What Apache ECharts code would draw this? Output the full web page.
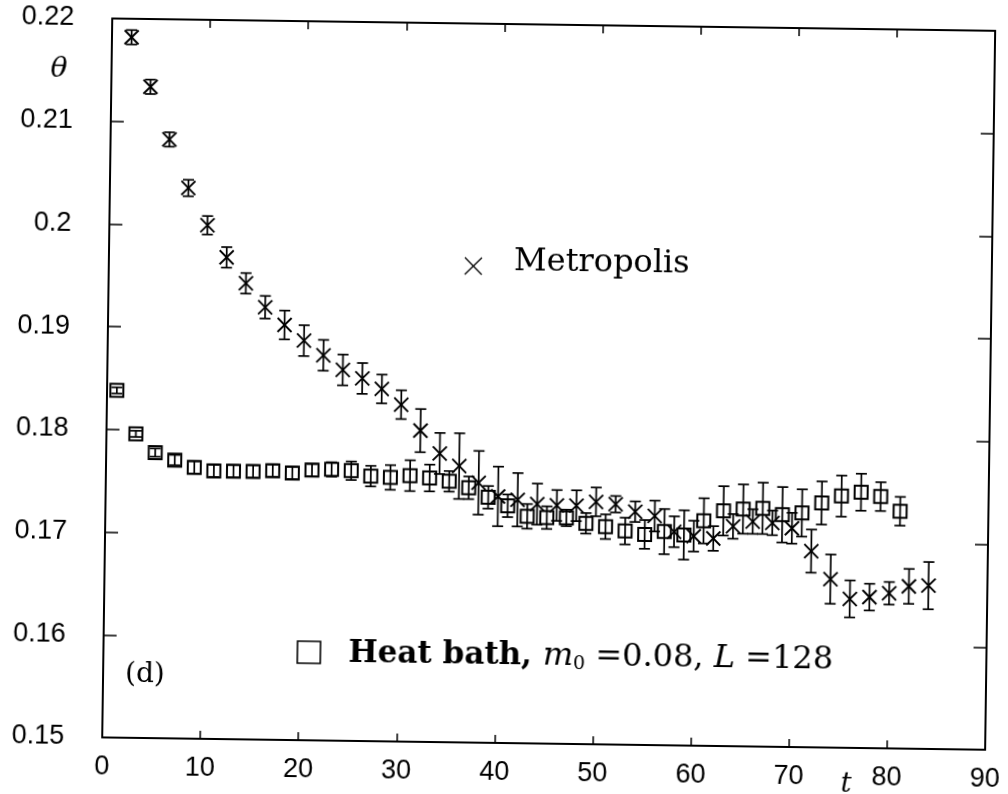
<!DOCTYPE html>
<html>
<head>
<meta charset="utf-8">
<script src="https://cdn.jsdelivr.net/npm/echarts@6/dist/echarts.min.js"></script>
<style>
  html, body { margin: 0; padding: 0; background: #fff; }
  #chart { width: 1008px; height: 794px; transform: rotate(0.8deg); transform-origin: 50% 50%; }
</style>
</head>
<body>
<div id="chart"></div>
<script>
// Heat bath run: Monte Carlo time t, θ and its error
const heatT = [1, 3, 5, 7, 9, 11, 13, 15, 17, 19, 21, 23, 25, 27, 29, 31, 33, 35, 37, 39,
  41, 43, 45, 47, 49, 51, 53, 55, 57, 59, 61, 63, 65, 67, 69, 71, 73, 75, 77, 79, 81];
const heatTheta = [0.1838, 0.1796, 0.1778, 0.1771, 0.1764, 0.1761, 0.1761, 0.1761, 0.1762, 0.1760,
  0.1763, 0.1764, 0.1763, 0.1758, 0.1757, 0.1759, 0.1757, 0.1754, 0.1748, 0.1739,
  0.1731, 0.1721, 0.1720, 0.1720, 0.1715, 0.1712, 0.1708, 0.1705, 0.1708, 0.1705,
  0.1719, 0.1729, 0.1731, 0.1732, 0.1726, 0.1728, 0.1738, 0.1745, 0.1749, 0.1745, 0.1731];
const heatErr = [0.0003, 0.0003, 0.0004, 0.0005, 0.0006, 0.0006, 0.0006, 0.0006, 0.0006, 0.0006,
  0.0006, 0.0007, 0.0009, 0.0010, 0.0012, 0.0015, 0.0013, 0.0010, 0.0011, 0.0011,
  0.0011, 0.0012, 0.0011, 0.0008, 0.0010, 0.0012, 0.0013, 0.0014, 0.0022, 0.0024,
  0.0022, 0.0024, 0.0024, 0.0025, 0.0027, 0.0023, 0.0021, 0.0020, 0.0018, 0.0014, 0.0014];

// Metropolis run
const metroT = [2, 4, 6, 8, 10, 12, 14, 16, 18, 20, 22, 24, 26, 28, 30, 32, 34, 36, 38, 40, 42,
  44, 46, 48, 50, 52, 54, 56, 58, 60, 62, 64, 66, 68, 70, 72, 74, 76, 78, 80, 82, 84];
const metroTheta = [0.2182, 0.2134, 0.2083, 0.2036, 0.2000, 0.1969, 0.1944, 0.1921, 0.1904, 0.1889,
  0.1875, 0.1861, 0.1853, 0.1843, 0.1828, 0.1803, 0.1781, 0.1769, 0.1753, 0.1740, 0.1737,
  0.1733, 0.1732, 0.1732, 0.1736, 0.1734, 0.1727, 0.1723, 0.1708, 0.1704, 0.1702,
  0.1714, 0.1719, 0.1718, 0.1713, 0.1691, 0.1664, 0.1645, 0.1647, 0.1651, 0.1658, 0.1659];
const metroErr = [0.0007, 0.0007, 0.0007, 0.0008, 0.0009, 0.0010, 0.0010, 0.0011, 0.0014, 0.0015,
  0.0015, 0.0015, 0.0015, 0.0014, 0.0014, 0.0021, 0.0020, 0.0032, 0.0031, 0.0029, 0.0026,
  0.0020, 0.0015, 0.0015, 0.0014, 0.0008, 0.0010, 0.0015, 0.0015, 0.0015, 0.0012,
  0.0012, 0.0012, 0.0012, 0.0015, 0.0021, 0.0024, 0.0018, 0.0013, 0.0011, 0.0017, 0.0023];

// Axis ranges and tick labels
const xTicks = [0, 10, 20, 30, 40, 50, 60, 70, 80, 90];
const yTicks = [0.15, 0.16, 0.17, 0.18, 0.19, 0.2, 0.21, 0.22];

const INK = '#000';

function pointWithError(marker) {
  return function (params, api) {
    const t = api.value(0), v = api.value(1), e = api.value(2);
    const c = api.coord([t, v]);
    const hi = api.coord([t, v + e]);
    const lo = api.coord([t, v - e]);
    const cap = 5.5;
    const bar = { stroke: INK, lineWidth: 1.7 };
    const kids = [
      { type: 'line', shape: { x1: c[0], y1: hi[1], x2: c[0], y2: lo[1] }, style: bar },
      { type: 'line', shape: { x1: c[0] - cap, y1: hi[1], x2: c[0] + cap, y2: hi[1] }, style: bar },
      { type: 'line', shape: { x1: c[0] - cap, y1: lo[1], x2: c[0] + cap, y2: lo[1] }, style: bar }
    ];
    if (marker === 'cross') {
      const s = 7;
      kids.push({ type: 'line', shape: { x1: c[0] - s, y1: c[1] - s, x2: c[0] + s, y2: c[1] + s }, style: { stroke: INK, lineWidth: 1.9 } });
      kids.push({ type: 'line', shape: { x1: c[0] - s, y1: c[1] + s, x2: c[0] + s, y2: c[1] - s }, style: { stroke: INK, lineWidth: 1.9 } });
    } else {
      const s = 6.5;
      kids.push({ type: 'rect', shape: { x: c[0] - s, y: c[1] - s, width: 2 * s, height: 2 * s }, style: { stroke: INK, fill: 'none', lineWidth: 2 } });
    }
    return { type: 'group', children: kids };
  };
}

const heatData = heatT.map((t, i) => [t, heatTheta[i], heatErr[i]]);
const metroData = metroT.map((t, i) => [t, metroTheta[i], metroErr[i]]);

const frameLine = { show: true, onZero: false, lineStyle: { color: INK, width: 2 } };

const chart = echarts.init(document.getElementById('chart'), null, { renderer: 'canvas' });
chart.setOption({
  backgroundColor: '#fff',
  animation: false,
  grid: { left: 107, right: 15, top: 24, bottom: 51 },
  xAxis: [
    {
      type: 'value', position: 'bottom', min: xTicks[0], max: xTicks[xTicks.length - 1], interval: 10,
      axisLine: frameLine,
      axisTick: { show: true, inside: true, length: 8, lineStyle: { color: INK, width: 1.5 } },
      axisLabel: { margin: 16, showMinLabel: true, showMaxLabel: true,
        fontFamily: 'Liberation Sans', fontSize: 27, color: INK },
      splitLine: { show: false }
    },
    {
      type: 'value', position: 'top', min: xTicks[0], max: xTicks[xTicks.length - 1], interval: 10,
      axisLine: frameLine,
      axisTick: { show: true, inside: true, length: 8, lineStyle: { color: INK, width: 1.5 } },
      axisLabel: { show: false },
      splitLine: { show: false }
    }
  ],
  yAxis: [
    {
      type: 'value', position: 'left', min: yTicks[0], max: yTicks[yTicks.length - 1], interval: 0.01,
      axisLine: frameLine,
      axisTick: { show: true, inside: true, length: 13, lineStyle: { color: INK, width: 1.5 } },
      axisLabel: { margin: 38, showMinLabel: true, showMaxLabel: true,
        fontFamily: 'Liberation Sans', fontSize: 27, color: INK,
        formatter: v => String(Number(v.toFixed(2))) },
      splitLine: { show: false }
    },
    {
      type: 'value', position: 'right', min: yTicks[0], max: yTicks[yTicks.length - 1], interval: 0.01,
      axisLine: frameLine,
      axisTick: { show: true, inside: true, length: 13, lineStyle: { color: INK, width: 1.5 } },
      axisLabel: { show: false },
      splitLine: { show: false }
    }
  ],
  series: [
    { name: 'Heat bath', type: 'custom', renderItem: pointWithError('square'), data: heatData, z: 3 },
    { name: 'Metropolis', type: 'custom', renderItem: pointWithError('cross'), data: metroData, z: 4 }
  ],
  graphic: [
    // axis titles
    { type: 'text', left: 46, top: 62, style: { text: 'θ', font: 'italic 28px "DejaVu Serif"', fill: INK } },
    { type: 'text', left: 846, top: 766, style: { text: 't', font: 'italic 27px "DejaVu Serif"', fill: INK } },
    // Metropolis key
    { type: 'line', shape: { x1: 463, y1: 258, x2: 480, y2: 275 }, style: { stroke: INK, lineWidth: 1.3 } },
    { type: 'line', shape: { x1: 463, y1: 275, x2: 480, y2: 258 }, style: { stroke: INK, lineWidth: 1.3 } },
    { type: 'text', x: 512, y: 262, style: { text: 'Metropolis', font: '32px "DejaVu Serif"', fill: INK, verticalAlign: 'middle' } },
    // Heat bath key
    { type: 'rect', shape: { x: 301, y: 644, width: 23, height: 22 }, style: { stroke: INK, fill: 'none', lineWidth: 1.6 } },
    {
      type: 'text', x: 352, y: 656,
      style: {
        text: '{b|Heat bath, }{i|m}{s|0}{r| =0.08, }{i|L}{r| =128}',
        verticalAlign: 'middle', fill: INK,
        rich: {
          b: { font: 'bold 31px "DejaVu Serif"', fill: INK },
          i: { font: 'italic 32px "DejaVu Serif"', fill: INK },
          s: { font: '19px "DejaVu Serif"', fill: INK, padding: [15, 0, 0, 0] },
          r: { font: '32px "DejaVu Serif"', fill: INK }
        }
      }
    },
    // panel tag
    { type: 'text', x: 129, y: 680, style: { text: '(d)', font: '28px "DejaVu Serif"', fill: INK, verticalAlign: 'middle' } }
  ]
});
</script>
</body>
</html>
